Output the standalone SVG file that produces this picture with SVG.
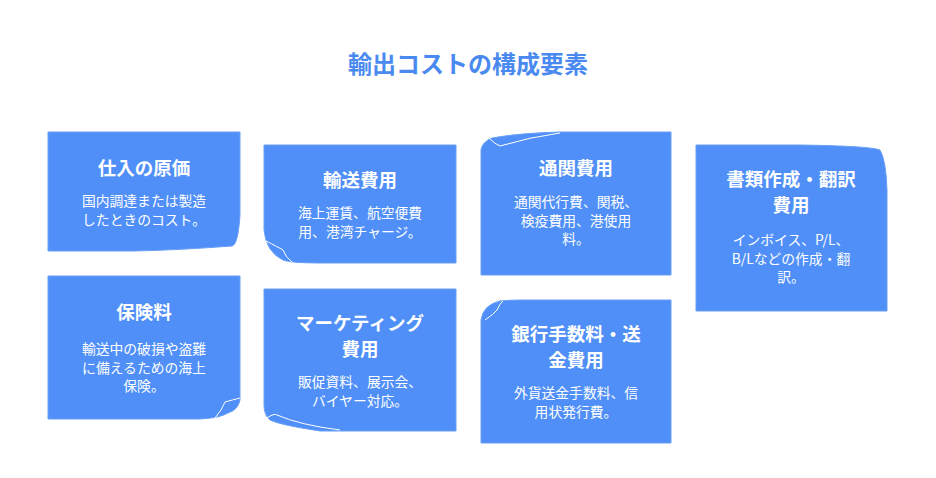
<svg xmlns="http://www.w3.org/2000/svg" width="936" height="478" viewBox="0 0 936 478">
<style>
.b{fill:#4f8ff7;stroke:#6aa0f8;stroke-width:1}
.c{fill:none;stroke:#ffffff;stroke-width:1}
text{font-family:"Noto Sans CJK JP","Liberation Sans",sans-serif;fill:#fff;text-anchor:middle}
.h{font-size:18.5px;font-weight:bold}
.t{font-size:13.8px}
.title{font-size:24px;font-weight:bold;fill:#4a8af0}
</style>
<rect width="936" height="478" fill="#fff"/>
<text class="title" x="468" y="73">輸出コストの構成要素</text>
<g id="n1"><path class="b" d="M48,132H240V215Q238,245 232,246Q180,250 135,251H48Z"/>
<text class="h" x="144" y="175">仕入の原価</text><text class="t" x="144" y="205.5">国内調達または製造</text><text class="t" x="144" y="224.5">したときのコスト。</text></g>
<g id="n2"><path class="b" d="M264,145H456V263H320Q290,263 283,260Q266,252 264,230Z"/><path class="c" d="M266,241Q278,247 283,250Q286,258 292,262"/>
<text class="h" x="360" y="187">輸送費用</text><text class="t" x="360" y="217.5">海上運賃、航空便費</text><text class="t" x="360" y="236.5">用、港湾チャージ。</text></g>
<g id="n3"><path class="b" d="M48,276H240V400Q238,410 228,413Q220,418 200,419H48Z"/><path class="c" d="M215,418Q222,410 225,402Q232,400 240,398"/>
<text class="h" x="144" y="319">保険料</text><text class="t" x="144" y="354">輸送中の破損や盗難</text><text class="t" x="144" y="372.5">に備えるための海上</text><text class="t" x="144" y="391">保険。</text></g>
<g id="n4"><path class="b" d="M264,289H456V431H320Q280,425 270,420Q264,415 264,405Z"/><path class="c" d="M267,418Q274,413 277,415Q300,425 340,430"/>
<text class="h" x="360" y="330">マーケティング</text><text class="h" x="360" y="355.5">費用</text><text class="t" x="360" y="386.5">販促資料、展示会、</text><text class="t" x="360" y="405.5">バイヤー対応。</text></g>
<g id="n5"><path class="b" d="M481,150Q482,142 492,138Q520,133 560,132H671V275H481Z"/><path class="c" d="M490,139Q495,144 500,146Q530,137 560,133"/>
<text class="h" x="576" y="175">通関費用</text><text class="t" x="576" y="207">通関代行費、関税、</text><text class="t" x="576" y="225.5">検疫費用、港使用</text><text class="t" x="576" y="244">料。</text></g>
<g id="n6"><path class="b" d="M696,145H800Q870,146 880,150Q886,160 887,190V311H696Z"/>
<text class="h" x="791" y="186">書類作成・翻訳</text><text class="h" x="791" y="211.5">費用</text><text class="t" x="791" y="245">インボイス、P/L、</text><text class="t" x="791" y="263.5">B/Lなどの作成・翻</text><text class="t" x="791" y="282">訳。</text></g>
<g id="n7"><path class="b" d="M481,320Q483,305 500,301Q510,300 520,300H671V443H481Z"/><path class="c" d="M485,320Q494,314 497,310Q500,303 503,301"/>
<text class="h" x="576" y="341">銀行手数料・送</text><text class="h" x="576" y="366.5">金費用</text><text class="t" x="576" y="397.5">外貨送金手数料、信</text><text class="t" x="576" y="416.5">用状発行費。</text></g>
<g id="connectors"/>
</svg>
